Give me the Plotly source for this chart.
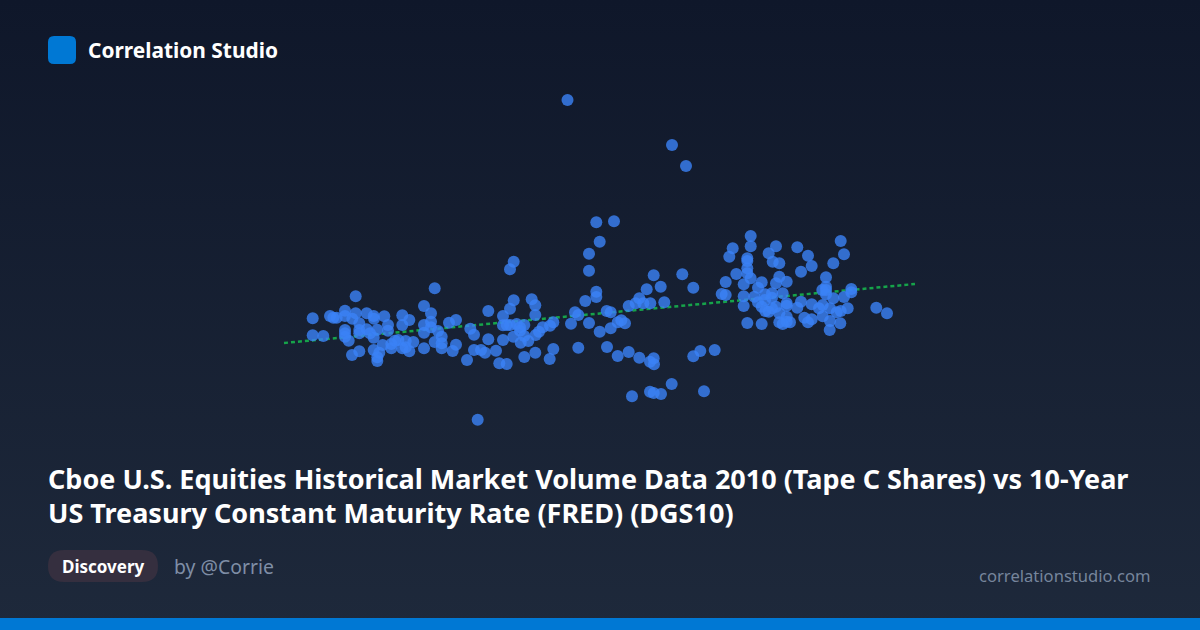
import base64

import plotly.graph_objects as go

# brand + headline text
brand = "Correlation Studio"
title_lines = [
    "Cboe U.S. Equities Historical Market Volume Data 2010 (Tape C Shares) vs 10-Year",
    "US Treasury Constant Maturity Rate (FRED) (DGS10)",
]
badge = "Discovery"
author = "by @Corrie"
site = "correlationstudio.com"

# scatter values (axis units are arbitrary, axes are hidden)
x_vals = [
    312.7, 312.7, 323.3, 330, 333.3, 336.7, 345, 345, 352.3, 355.7, 355.7, 359.3, 366.7, 373.7, 374,
    384.3, 388, 388, 345, 345, 345, 348.7, 359.3, 359.3, 366.7, 370, 373.7, 377.3, 352, 359.3,
    373.7, 379.3, 377.3, 377.3, 382.7, 391.3, 391.3, 395, 398.3, 402.3, 405.7, 405.7, 409.3, 413.3, 402.3,
    402.3, 409.3, 424, 434.7, 431, 431, 424, 431, 424, 438, 441.7, 434.7, 441.7, 441.7, 424,
    452.7, 456, 449, 456, 470.3, 474, 467, 474, 481, 485, 488.3, 488.3,
    596.3, 614, 599.7, 589, 589, 513.7, 510, 653.7, 682.3, 660.7, 646.7, 693.3, 596.3, 596.3,
    585.3, 513.7, 510, 531.7, 535.3, 535.3, 503, 664.3, 639.3, 643.3, 650.3, 635.7, 628.7, 575,
    578.3, 571, 589, 606.7, 610.7, 621.3, 625, 617.7, 610.7, 599.7, 553.3, 550, 542.7, 539, 535.7,
    503, 506.7, 510, 516.7, 524.3, 520, 520, 513.3, 524.3, 528.3, 520.7, 503, 496, 499.3, 506.7,
    524.3, 535.3, 553.3, 549.7, 578.3, 607, 617.7, 628.7, 639.3, 653.7, 650, 654, 693.3, 700.3, 714.7,
    671.7, 704, 632, 650, 653.7, 661, 477.7, 567.5, 672, 686,
    750.7, 732.7, 750.7, 729.3, 747.3, 747.3, 768.7, 776, 797.3, 808, 840.7, 844, 772.7, 779.3, 833.3,
    811.7, 801, 747.3, 747.3, 736.3, 750.7, 779.3, 786.7, 776, 761.7, 758, 743.7, 725.7, 721.7, 725.7,
    743.7, 743.7, 754.3, 765, 772, 772, 765, 758, 761.7, 765.3, 768.7, 772, 776, 782.7, 786.7,
    786.7, 797.3, 801, 779.3, 786.7, 790, 786.7, 782.7, 779.3, 761.7, 747.3, 804.3, 811.7, 808, 811.7,
    819, 822.7, 822.7, 830, 830, 829.7, 840.3, 836.7, 840.7, 847.7, 833.3, 844, 851.3, 851.3, 826,
    826, 826, 822.3, 826, 876.3, 887,
]
y_vals = [
    311.7, 294.7, 294, 314, 312.3, 312.3, 319.3, 314, 311.3, 333.7, 316.7, 306.7, 316.7, 314, 311.3,
    313.7, 305, 299.3, 300, 296.7, 293.3, 289.3, 300, 296.7, 300.7, 296.7, 292.3, 300.3, 275, 278.7,
    280, 277.3, 272.7, 269, 285, 281.7, 286, 289.3, 290, 281.7, 289, 282.7, 278.7, 288, 314.7,
    305, 310, 324, 341.7, 316.7, 308.3, 305, 302.7, 297.3, 299, 293.3, 288, 286.7, 281.7, 281.7,
    279, 285.3, 307.3, 310, 301.3, 295.3, 270, 280, 280, 277.3, 319, 290.7,
    407.7, 408.7, 388.3, 376.3, 359.3, 368.3, 360.7, 354.7, 355.7, 343.3, 340.7, 342.3, 338.3, 333,
    329, 329.7, 321.3, 330.7, 324.7, 315, 314, 327.7, 331.7, 326.7, 326.7, 326.7, 324, 317.7,
    315, 306.3, 307, 319, 317.7, 309.7, 306.7, 307.7, 301.7, 298.3, 307.7, 304.3, 302.7, 298.3, 295,
    304.7, 305, 305, 306, 305, 302.7, 299.3, 293.3, 294, 289, 287.3, 290, 279.3, 266.7, 266,
    273, 277.3, 281, 271, 282.3, 283, 274, 278, 272.3, 271.7, 268.3, 265.7, 273.7, 279, 280,
    246, 238.7, 233.7, 238.3, 237, 236, 210.3, 530, 485, 464,
    394, 381.7, 383.7, 373.3, 371.7, 369, 376.7, 383.7, 382.7, 374.3, 389, 375.7, 368.3, 366.7, 366.7,
    364, 358.3, 361.7, 356.7, 356, 351.7, 353.3, 348.3, 346.7, 347.7, 342.3, 345.7, 348, 336, 335,
    333.7, 324, 333.3, 335.7, 336.7, 332.3, 330, 327.7, 323.3, 319, 318.3, 321.7, 323.3, 336.7, 326.7,
    324.3, 322.3, 328.3, 316.7, 313.3, 307.7, 308.3, 306, 307.7, 306, 307, 312.3, 310.7, 307.7, 325.7,
    321.7, 325, 313.7, 321.7, 309, 300, 306.7, 317.7, 319, 321.7, 331.7, 333, 341, 337.7, 352.7,
    343.3, 340, 340, 335.7, 322.3, 316.7,
]

# fitted line end points
trend_x = [284, 915]
trend_y = [287, 346]

W, H = 1200, 630
ACCENT = "#0078d4"

svg = (
    f'<svg xmlns="http://www.w3.org/2000/svg" width="{W}" height="{H}">'
    '<defs><linearGradient id="g" x1="0" y1="0" x2="0" y2="1">'
    '<stop offset="0" stop-color="#0f172a"/><stop offset="1" stop-color="#1e293b"/>'
    '</linearGradient></defs>'
    f'<rect width="{W}" height="{H}" fill="url(#g)"/></svg>'
)
bg_src = "data:image/svg+xml;base64," + base64.b64encode(svg.encode()).decode()


def rounded(x0, y0, x1, y1, r):
    # path for a rounded rectangle, y measured down from the top of the image
    y0, y1 = H - y0, H - y1
    return (
        f"M{x0 + r},{y0} L{x1 - r},{y0} Q{x1},{y0} {x1},{y0 - r} L{x1},{y1 + r} Q{x1},{y1} {x1 - r},{y1} "
        f"L{x0 + r},{y1} Q{x0},{y1} {x0},{y1 + r} L{x0},{y0 - r} Q{x0},{y0} {x0 + r},{y0} Z"
    )


fig = go.Figure()

fig.add_trace(go.Scatter(
    x=trend_x, y=trend_y, mode="lines",
    line=dict(color="#16a34a", width=2.5, dash="4px,3px"),
    hoverinfo="skip",
))
fig.add_trace(go.Scatter(
    x=x_vals, y=y_vals, mode="markers",
    marker=dict(color="#3b82f6", size=12, opacity=0.8, line_width=0),
    hoverinfo="skip",
))


def label(x, y, text, size, color, weight=400, anchor="left"):
    fig.add_annotation(
        x=x, y=H - y, xref="x", yref="y", text=text, showarrow=False,
        xanchor=anchor, yanchor="middle", borderpad=0, borderwidth=0,
        font=dict(family="Noto Sans", size=size, color=color, weight=weight),
    )


label(88, 50, brand, 20.9, "#ffffff", 700)
label(48, 478, title_lines[0], 27, "#ffffff", 700)
label(48, 512, title_lines[1], 27, "#ffffff", 700)
label(103, 566, badge, 17, "#ffffff", 700, "center")
label(174, 566, author, 19.4, "#7f8ea6")
label(1151, 575, site, 16.6, "#76859c", anchor="right")

fig.update_layout(
    width=W, height=H,
    margin=dict(l=0, r=0, t=0, b=0),
    paper_bgcolor="#0f172a", plot_bgcolor="rgba(0,0,0,0)",
    showlegend=False,
    xaxis=dict(range=[0, W], visible=False, fixedrange=True),
    yaxis=dict(range=[0, H], visible=False, fixedrange=True),
    images=[dict(source=bg_src, xref="paper", yref="paper", x=0, y=1, sizex=1, sizey=1,
                 sizing="stretch", xanchor="left", yanchor="top", layer="below")],
    shapes=[
        dict(type="path", path=rounded(48, 36, 76, 64, 6), fillcolor=ACCENT, line_width=0, layer="below"),
        dict(type="path", path=rounded(48, 550, 158, 582, 16), fillcolor="#352f3f", line_width=0, layer="below"),
        dict(type="rect", x0=0, x1=W, y0=0, y1=12, fillcolor=ACCENT, line_width=0, layer="below"),
    ],
)

fig.write_html("out.html", config=dict(displayModeBar=False),
               post_script="document.body.style.margin='0';")
